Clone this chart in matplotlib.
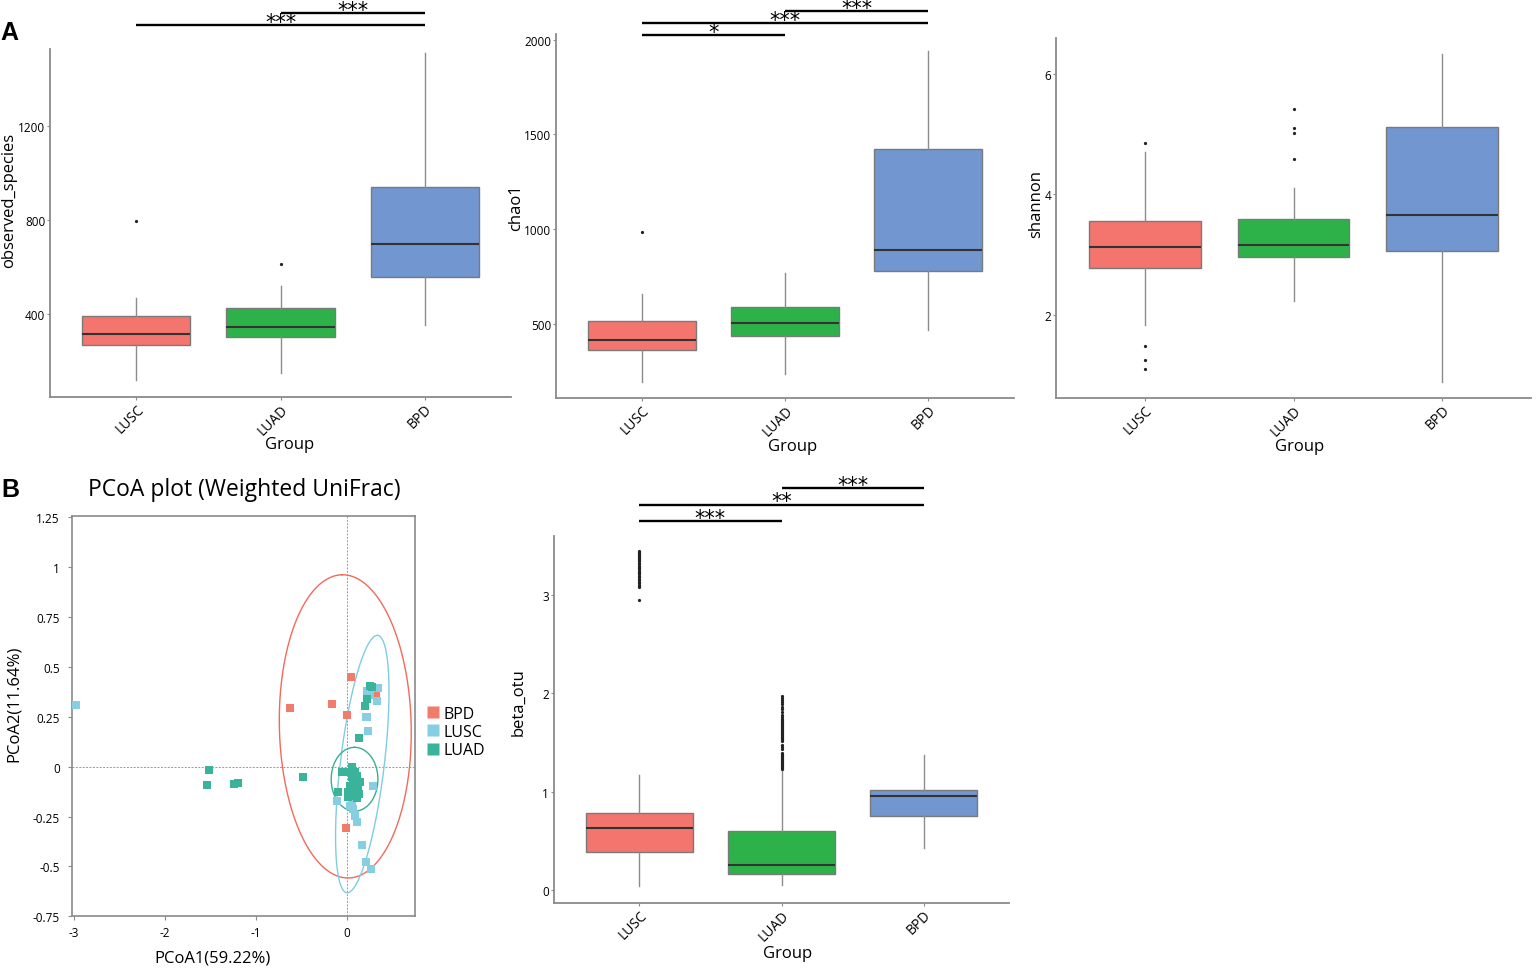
import matplotlib
matplotlib.use('Agg')
import matplotlib.pyplot as plt
from matplotlib.lines import Line2D
import numpy as np

plt.rcParams['font.family'] = ['Open Sans', 'DejaVu Sans']

W, H = 1537, 970

# ---------------- data ----------------
groups = ['LUSC', 'LUAD', 'BPD']
box_colors = ['#F4756E', '#2DB24A', '#7196D0']

# observed_species
obs_whislo = [120, 152, 355]
obs_q1 = [268, 305, 557]
obs_med = [316, 348, 696]
obs_q3 = [394, 425, 940]
obs_whishi = [471, 520, 1508]
obs_fliers = [[794], [611], []]
obs_sig = [(1, 3, 1627, '***'), (2, 3, 1678, '***')]

# chao1
chao_whislo = [192, 233, 468]
chao_q1 = [364, 438, 778]
chao_med = [416, 504, 890]
chao_q3 = [512, 588, 1425]
chao_whishi = [657, 769, 1942]
chao_fliers = [[984], [], []]
chao_sig = [(1, 2, 2023, '*'), (1, 3, 2086, '***'), (2, 3, 2151, '***')]

# shannon
sha_whislo = [1.82, 2.23, 0.89]
sha_q1 = [2.78, 2.96, 3.06]
sha_med = [3.12, 3.15, 3.66]
sha_q3 = [3.56, 3.58, 5.12]
sha_whishi = [4.70, 4.10, 6.33]
sha_fliers = [[4.85, 1.48, 1.25, 1.09], [4.59, 5.02, 5.09, 5.42], []]

# beta_otu
beta_whislo = [0.04, 0.05, 0.43]
beta_q1 = [0.39, 0.17, 0.76]
beta_med = [0.63, 0.26, 0.96]
beta_q3 = [0.785, 0.60, 1.02]
beta_whishi = [1.17, 1.22, 1.37]
beta_fliers_lusc = [3.45, 3.44, 3.43, 3.42, 3.41, 3.40, 3.39, 3.38, 3.37, 3.36,
                    3.35, 3.33, 3.32, 3.30, 3.29, 3.27, 3.26, 3.24, 3.23, 3.22,
                    3.21, 3.19, 3.18, 3.16, 3.15, 3.13, 3.12, 3.10, 3.09, 3.08, 2.95]
beta_fliers_luad = [1.97, 1.95, 1.93, 1.91, 1.89, 1.86, 1.84, 1.81, 1.78, 1.76,
                    1.74, 1.73, 1.72, 1.71, 1.70, 1.69, 1.68, 1.67, 1.66, 1.65,
                    1.64, 1.63, 1.62, 1.61, 1.60, 1.59, 1.58, 1.57, 1.56, 1.55,
                    1.54, 1.53, 1.52, 1.48, 1.46, 1.44, 1.40, 1.38, 1.37, 1.36,
                    1.35, 1.34, 1.33, 1.32, 1.31, 1.30, 1.29, 1.28, 1.27, 1.26,
                    1.25, 1.24, 1.23]
beta_fliers = [beta_fliers_lusc, beta_fliers_luad, []]
beta_sig = [(1, 2, 3.754, '***'), (1, 3, 3.92, '**'), (2, 3, 4.085, '***')]

# PCoA points
pcoa_groups = ['BPD', 'LUSC', 'LUAD']
pcoa_colors = ['#F17C6C', '#86CFE2', '#39B39A']
bpd_x = [0.044, -0.627, -0.165, 0.0, 0.322, -0.008]
bpd_y = [0.447, 0.295, 0.313, 0.26, 0.36, -0.307]
lusc_x = [-2.978, 0.22, 0.347, 0.336, 0.227, 0.213, 0.237, 0.292, -0.11, 0.036,
          0.073, 0.091, 0.117, 0.165, 0.213, 0.264, 0.25, 0.06]
lusc_y = [0.308, 0.38, 0.392, 0.33, 0.247, 0.247, 0.18, -0.098, -0.17, -0.195,
          -0.212, -0.245, -0.275, -0.395, -0.48, -0.512, 0.36, -0.185]
luad_x = [-1.514, -1.54, -1.236, -1.2, -0.484, 0.256, 0.275, 0.227, 0.20, 0.139,
          -0.055, -0.018, 0.055, 0.066, 0.092, 0.117, 0.055, 0.103, 0.147, 0.037,
          0.081, 0.128, 0.018, -0.092, 0.018, 0.11, 0.139, 0.07, 0.09, 0.12,
          0.05, 0.1, 0.08, 0.13]
luad_y = [-0.015, -0.092, -0.088, -0.08, -0.052, 0.405, 0.397, 0.339, 0.302, 0.142,
          -0.025, -0.025, -0.003, -0.02, -0.028, -0.045, -0.053, -0.07, -0.078, -0.095,
          -0.112, -0.12, -0.128, -0.128, -0.153, -0.158, -0.137, -0.06, -0.085, -0.1,
          -0.11, -0.145, -0.04, -0.075]
pcoa_x = [bpd_x, lusc_x, luad_x]
pcoa_y = [bpd_y, lusc_y, luad_y]

# confidence ellipses: center, major half-vector, minor half-vector (data units)
ell_center = [(-0.017, 0.202), (0.17, 0.013), (0.085, -0.063)]
ell_u = [(-0.037, 0.76), (0.17, 0.645), (0.0, 0.16)]
ell_v = [(0.725, 0.0075), (0.24, -0.013), (0.257, 0.0)]
ell_colors = ['#F26A5C', '#7FCDE0', '#3AAE93']

GRAY = '#8a8a8a'


def frac(l, t, r, b):
    return [l / W, 1 - b / H, (r - l) / W, (b - t) / H]


fig = plt.figure(figsize=(W / 100, H / 100), dpi=100)


def box_panel(rect, whislo, q1, med, q3, whishi, fliers, ylim, yticks, ylabel,
              ylab_xy, grp_xy, sigs):
    ax = fig.add_axes(rect)
    stats = []
    for i in range(3):
        stats.append(dict(whislo=whislo[i], q1=q1[i], med=med[i], q3=q3[i],
                          whishi=whishi[i], fliers=fliers[i]))
    bp = ax.bxp(stats, positions=[1, 2, 3], widths=0.75, patch_artist=True,
                showcaps=False,
                boxprops=dict(edgecolor='#7a7a7a', linewidth=1.0),
                medianprops=dict(color='#333333', linewidth=1.5),
                whiskerprops=dict(color='#8c8c8c', linewidth=1.0),
                flierprops=dict(marker='o', markersize=1.3, markerfacecolor='#222222',
                                markeredgecolor='#222222', linestyle='none'))
    for patch, c in zip(bp['boxes'], box_colors):
        patch.set_facecolor(c)
    ax.set_xlim(0.4, 3.6)
    ax.set_ylim(*ylim)
    for s in ['top', 'right']:
        ax.spines[s].set_visible(False)
    for s in ['left', 'bottom']:
        ax.spines[s].set_color(GRAY)
        ax.spines[s].set_linewidth(1.3)
    ax.set_yticks(yticks)
    ax.set_yticklabels([str(v) for v in yticks], fontsize=8.5)
    ax.set_xticks([1, 2, 3])
    ax.set_xticklabels(groups, fontsize=10, rotation=45, ha='right', va='top',
                       rotation_mode='anchor')
    ax.tick_params(axis='both', direction='out', length=2.5, color=GRAY, width=0.8)
    ax.tick_params(axis='y', pad=1)
    ax.tick_params(axis='x', pad=0.5)
    ax.set_ylabel(ylabel, fontsize=12)
    ax.yaxis.set_label_coords(*ylab_xy)
    ax.set_xlabel('Group', fontsize=12, va='top')
    ax.xaxis.set_label_coords(*grp_xy)
    for (a, b, y, txt) in sigs:
        ax.plot([a, b], [y, y], color='black', lw=1.7, clip_on=False,
                solid_capstyle='butt')
        ax.annotate(txt, xy=((a + b) / 2, y), xytext=(0, -2.0),
                    textcoords='offset points', ha='center', va='baseline',
                    fontsize=15, family='DejaVu Sans', annotation_clip=False)
    return ax


box_panel(frac(50, 50, 511, 398), obs_whislo, obs_q1, obs_med, obs_q3, obs_whishi,
          obs_fliers, (49, 1525), [400, 800, 1200], 'observed_species',
          (-0.0716, 0.569), (0.52, -0.112), obs_sig)
box_panel(frac(556, 35, 1014, 399), chao_whislo, chao_q1, chao_med, chao_q3,
          chao_whishi, chao_fliers, (108, 2030), [500, 1000, 1500, 2000], 'chao1',
          (-0.07, 0.525), (0.517, -0.11), chao_sig)
box_panel(frac(1056, 39, 1531, 399), sha_whislo, sha_q1, sha_med, sha_q3,
          sha_whishi, sha_fliers, (0.617, 6.59), [2, 4, 6], 'shannon',
          (-0.025, 0.542), (0.512, -0.111), [])
box_panel(frac(554, 537, 1009, 904), beta_whislo, beta_q1, beta_med, beta_q3,
          beta_whishi, beta_fliers, (-0.129, 3.60), [0, 1, 2, 3], 'beta_otu',
          (-0.0615, 0.55), (0.514, -0.114), beta_sig)

# ---------------- PCoA ----------------
ax = fig.add_axes(frac(72.3, 516.7, 415, 917.3))
ax.set_xlim(-3.02, 0.75)
ax.set_ylim(-0.75, 1.258)
ax.axvline(0, color='#999999', lw=0.7, ls=(0, (2, 1.5)), zorder=1)
ax.axhline(0, color='#999999', lw=0.7, ls=(0, (2, 1.5)), zorder=1)
t = np.linspace(0, 2 * np.pi, 300)
for (cx, cy), (ux, uy), (vx, vy), c in zip(ell_center, ell_u, ell_v, ell_colors):
    ax.plot(cx + ux * np.cos(t) + vx * np.sin(t), cy + uy * np.cos(t) + vy * np.sin(t),
            color=c, lw=1.0, zorder=2)
for xs, ys, c in zip(pcoa_x, pcoa_y, pcoa_colors):
    ax.scatter(xs, ys, marker='s', s=30, color=c, linewidths=0, zorder=3)
for s in ax.spines.values():
    s.set_color(GRAY)
    s.set_linewidth(1.2)
ax.set_xticks([-3, -2, -1, 0])
ax.set_xticklabels(['-3', '-2', '-1', '0'], fontsize=8.5)
yt = [-0.75, -0.5, -0.25, 0, 0.25, 0.5, 0.75, 1, 1.25]
ax.set_yticks(yt)
ax.set_yticklabels(['-0.75', '-0.5', '-0.25', '0', '0.25', '0.5', '0.75', '1', '1.25'],
                   fontsize=8.5)
ax.tick_params(axis='both', direction='out', length=3, color=GRAY, width=0.8)
ax.tick_params(axis='y', pad=6)
ax.tick_params(axis='x', pad=4)
ax.set_xlabel('PCoA1(59.22%)', fontsize=12, va='top')
ax.xaxis.set_label_coords(0.41, -0.082)
ax.set_ylabel('PCoA2(11.64%)', fontsize=12)
ax.yaxis.set_label_coords(-0.147, 0.532)
handles = [Line2D([], [], marker='s', ls='none', ms=8, color=c, mec='none')
           for c in pcoa_colors]
ax.legend(handles, pcoa_groups, loc='center left', bbox_to_anchor=(1.005, 0.46),
          frameon=False, fontsize=11.5, handletextpad=0.1, labelspacing=0.15,
          borderaxespad=0, handlelength=1.2)

fig.text(244 / W, 1 - 490 / H, 'PCoA plot (Weighted UniFrac)', fontsize=16.5,
         ha='center', va='center')
fig.text(0 / W, 1 - 33 / H, 'A', fontsize=18, fontweight='bold', family='Liberation Sans',
         ha='left', va='center')
fig.text(1 / W, 1 - 490 / H, 'B', fontsize=18, fontweight='bold', family='Liberation Sans',
         ha='left', va='center')

fig.savefig('out.png', dpi=100)
